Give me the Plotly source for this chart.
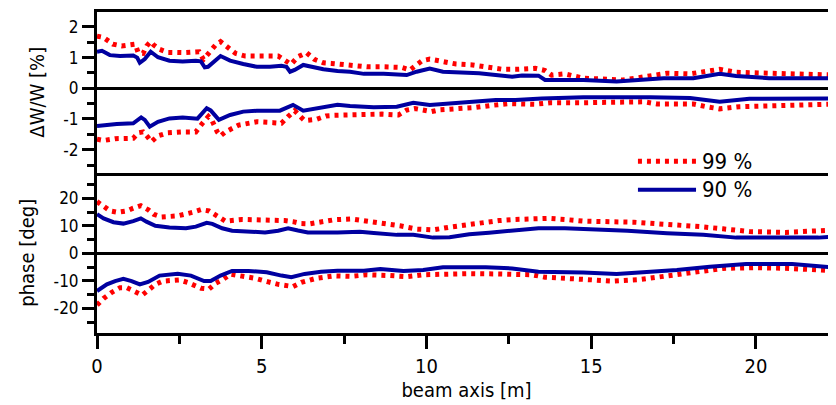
import plotly.graph_objects as go
from plotly.subplots import make_subplots

# ---------------- data ----------------
# Energy spread envelope, dW/W [%]
dw_up90_x = [0, 0.15, 0.39, 0.7, 1.1, 1.22, 1.3, 1.45, 1.63, 1.85, 2.2, 2.6, 3.0, 3.15, 3.27, 3.37, 3.75, 4.04, 4.44, 4.85, 5.25, 5.6, 5.75, 5.86, 6.0, 6.26, 6.87, 7.3, 7.68, 8.1, 8.7, 9.4, 9.7, 10.1, 10.5, 11.1, 11.6, 12.1, 12.6, 12.9, 13.4, 13.6, 14.1, 14.76, 15.77, 16.4, 17.2, 18.1, 18.9, 19.4, 20.4, 21.5, 22.45]
dw_up90_y = [1.19, 1.22, 1.08, 1.05, 1.07, 1.0, 0.83, 0.95, 1.19, 1.01, 0.9, 0.87, 0.9, 0.88, 0.68, 0.70, 1.05, 0.9, 0.79, 0.70, 0.70, 0.73, 0.70, 0.54, 0.6, 0.76, 0.62, 0.56, 0.54, 0.47, 0.47, 0.43, 0.54, 0.64, 0.54, 0.52, 0.49, 0.43, 0.38, 0.42, 0.41, 0.27, 0.27, 0.27, 0.22, 0.27, 0.33, 0.33, 0.47, 0.40, 0.33, 0.33, 0.33]

dw_up99_x = [0, 0.19, 0.48, 0.75, 1.16, 1.25, 1.4, 1.51, 1.63, 1.72, 1.9, 2.15, 2.65, 3.1, 3.23, 3.4, 3.6, 3.75, 3.93, 4.2, 4.5, 5.0, 5.5, 5.66, 5.89, 6.1, 6.36, 6.6, 6.87, 7.12, 7.68, 8.2, 8.7, 9.25, 9.5, 9.87, 10.1, 10.4, 10.9, 11.4, 11.9, 12.3, 12.8, 13.3, 13.6, 13.8, 14.2, 14.76, 15.97, 16.8, 17.3, 18.0, 18.6, 18.9, 19.4, 20.3, 21.5, 22.45]
dw_up99_y = [1.7, 1.66, 1.44, 1.38, 1.44, 1.16, 1.14, 1.38, 1.52, 1.41, 1.27, 1.17, 1.16, 1.19, 0.94, 1.14, 1.41, 1.52, 1.35, 1.14, 1.05, 1.03, 1.05, 0.94, 0.78, 1.03, 1.16, 0.94, 0.83, 0.81, 0.76, 0.70, 0.70, 0.68, 0.6, 0.9, 0.95, 0.89, 0.79, 0.76, 0.70, 0.62, 0.62, 0.65, 0.58, 0.43, 0.47, 0.33, 0.27, 0.40, 0.49, 0.47, 0.57, 0.62, 0.52, 0.49, 0.47, 0.43]

dw_lo90_x = [0, 0.2, 0.6, 1.1, 1.34, 1.45, 1.6, 1.85, 2.2, 2.6, 3.05, 3.33, 3.45, 3.7, 4.04, 4.44, 4.85, 5.55, 5.95, 6.26, 6.87, 7.3, 7.68, 8.4, 9.1, 9.6, 10.1, 10.7, 11.4, 12.1, 12.7, 13.5, 14.76, 15.77, 16.8, 18.0, 18.9, 19.8, 20.8, 22.45]
dw_lo90_y = [-1.23, -1.2, -1.16, -1.14, -0.95, -1.03, -1.25, -1.09, -0.98, -0.95, -0.99, -0.65, -0.72, -1.03, -0.87, -0.76, -0.73, -0.73, -0.54, -0.73, -0.6, -0.54, -0.58, -0.62, -0.6, -0.47, -0.54, -0.49, -0.44, -0.38, -0.38, -0.33, -0.29, -0.28, -0.29, -0.32, -0.44, -0.34, -0.33, -0.33]

dw_lo99_x = [0, 0.2, 0.55, 1.1, 1.25, 1.4, 1.55, 1.65, 1.85, 2.15, 2.6, 3.0, 3.2, 3.38, 3.5, 3.65, 3.75, 3.9, 4.3, 4.85, 5.35, 5.6, 5.8, 6.0, 6.2, 6.3, 6.66, 6.95, 7.2, 7.6, 8.1, 8.65, 9.15, 9.4, 9.65, 9.9, 10.15, 10.4, 10.9, 11.45, 11.95, 12.5, 13.3, 13.75, 14.76, 15.77, 16.6, 17.0, 18.1, 18.5, 18.9, 19.5, 20.3, 21.5, 22.45]
dw_lo99_y = [-1.66, -1.7, -1.64, -1.63, -1.45, -1.42, -1.6, -1.74, -1.55, -1.45, -1.42, -1.42, -1.14, -0.92, -1.07, -1.42, -1.55, -1.42, -1.2, -1.09, -1.12, -1.14, -0.92, -0.73, -0.95, -1.05, -1.01, -0.9, -0.88, -0.87, -0.85, -0.84, -0.87, -0.71, -0.66, -0.70, -0.76, -0.70, -0.67, -0.63, -0.56, -0.50, -0.52, -0.47, -0.47, -0.44, -0.44, -0.51, -0.51, -0.6, -0.67, -0.6, -0.58, -0.52, -0.51]

# Phase envelope [deg]
ph_up90_x = [0, 0.2, 0.5, 0.8, 1.1, 1.33, 1.5, 1.77, 2.2, 2.7, 3.0, 3.33, 3.5, 3.8, 4.1, 4.6, 5.1, 5.5, 5.8, 6.1, 6.4, 7.3, 7.98, 8.4, 9.1, 9.6, 10.2, 10.7, 11.3, 11.9, 12.6, 13.4, 14.2, 14.76, 16.1, 17.3, 18.4, 19.4, 20.4, 21.9, 22.45]
ph_up90_y = [14.2, 12.7, 11.3, 10.8, 11.7, 12.7, 11.5, 10.0, 9.4, 9.1, 9.7, 11.1, 10.7, 9.1, 8.2, 8.0, 7.6, 8.2, 9.1, 8.3, 7.6, 7.6, 7.8, 7.4, 6.7, 6.7, 5.7, 5.8, 6.9, 7.5, 8.2, 9.1, 9.1, 8.9, 8.2, 7.3, 6.7, 5.7, 5.7, 5.7, 6.2]

ph_up99_x = [0, 0.2, 0.4, 0.63, 0.9, 1.1, 1.33, 1.56, 1.72, 1.96, 2.45, 2.9, 3.16, 3.4, 3.65, 3.9, 4.4, 4.9, 5.45, 5.7, 5.95, 6.2, 6.45, 6.9, 7.2, 7.7, 8.2, 8.7, 9.2, 9.7, 10.2, 10.7, 11.2, 11.7, 12.2, 12.7, 13.2, 13.7, 14.2, 14.76, 16.3, 17.3, 18.3, 19.0, 19.8, 20.9, 21.9, 22.45]
ph_up99_y = [18.8, 17.0, 15.4, 14.9, 15.4, 16.4, 17.3, 15.8, 14.2, 13.2, 13.6, 14.9, 15.9, 15.4, 13.3, 11.7, 12.3, 12.3, 12.0, 11.9, 11.5, 10.8, 10.7, 11.5, 12.2, 12.5, 11.7, 10.7, 10.0, 8.8, 8.5, 9.5, 10.4, 11.1, 11.9, 12.3, 12.5, 12.7, 12.3, 11.7, 11.3, 10.7, 9.7, 8.9, 7.9, 7.6, 8.1, 8.5]

ph_lo90_x = [0, 0.3, 0.55, 0.8, 1.05, 1.3, 1.55, 1.9, 2.45, 2.85, 3.25, 3.45, 3.75, 4.1, 4.6, 5.15, 5.6, 5.9, 6.3, 6.8, 7.3, 8.1, 8.6, 9.3, 9.9, 10.5, 11.8, 12.6, 13.4, 14.2, 14.76, 15.77, 16.6, 17.6, 18.6, 19.7, 21.1, 22.45]
ph_lo90_y = [-13.7, -11.3, -10.1, -9.3, -10.1, -11.3, -10.4, -8.1, -7.4, -8.1, -10.1, -10.1, -8.1, -6.4, -6.4, -6.9, -8.1, -8.7, -7.5, -6.7, -6.3, -6.3, -5.7, -6.4, -6.1, -5.1, -5.1, -5.5, -6.7, -6.7, -7.0, -7.5, -7.0, -6.1, -4.9, -3.9, -3.9, -5.2]

ph_lo99_x = [0, 0.2, 0.45, 0.7, 0.9, 1.1, 1.37, 1.57, 1.77, 2.0, 2.27, 2.5, 2.75, 2.95, 3.16, 3.4, 3.6, 3.85, 4.05, 4.3, 4.8, 5.2, 5.5, 5.95, 6.2, 6.65, 7.2, 7.7, 8.2, 8.9, 9.4, 9.9, 10.5, 11.3, 12.1, 12.9, 13.2, 13.6, 14.1, 14.76, 15.67, 16.5, 17.2, 18.0, 19.0, 20.0, 21.0, 22.45]
ph_lo99_y = [-18.8, -16.4, -14.2, -12.5, -12.5, -13.7, -15.2, -13.3, -11.3, -10.1, -9.7, -9.7, -10.6, -11.5, -12.7, -13.0, -10.9, -9.3, -7.6, -8.1, -9.1, -10.4, -11.3, -12.1, -10.6, -9.1, -8.2, -8.4, -7.8, -8.1, -8.5, -7.8, -7.5, -7.4, -7.5, -7.5, -7.8, -8.7, -9.1, -9.3, -10.1, -9.5, -8.3, -7.0, -5.5, -5.2, -5.5, -6.4]

x_ticks = [0, 5, 10, 15, 20]
dw_ticks = [-2, -1, 0, 1, 2]
dw_ticktext = ["-2", "-1", "0", "1", "2"]
ph_ticks = [-20, -10, 0, 10, 20]
ph_ticktext = ["-20", "-10", "0", "10", "20"]
legend_names = ["99 %", "90 %"]

# ---------------- style ----------------
FONT = "Tahoma, 'DejaVu Sans Condensed', 'DejaVu Sans', sans-serif"
RED = "#FF0000"
BLUE = "#0000A0"
red_line = dict(color=RED, width=5, dash="4px,5px")
blue_line = dict(color=BLUE, width=4)

fig = make_subplots(rows=2, cols=1, shared_xaxes=True, vertical_spacing=0)

for xs, ys, ln, row in [
    (dw_up99_x, dw_up99_y, red_line, 1),
    (dw_lo99_x, dw_lo99_y, red_line, 1),
    (dw_up90_x, dw_up90_y, blue_line, 1),
    (dw_lo90_x, dw_lo90_y, blue_line, 1),
    (ph_up99_x, ph_up99_y, red_line, 2),
    (ph_lo99_x, ph_lo99_y, red_line, 2),
    (ph_up90_x, ph_up90_y, blue_line, 2),
    (ph_lo90_x, ph_lo90_y, blue_line, 2),
]:
    fig.add_trace(go.Scatter(x=xs, y=ys, mode="lines", line=ln, showlegend=False,
                             hoverinfo="skip"), row=row, col=1)

XR = [0, 22.43]
fig.update_xaxes(range=XR, showgrid=False, zeroline=False)
fig.update_xaxes(row=1, col=1, showline=True, linecolor="black", linewidth=3,
                 mirror=True, ticks="", showticklabels=False)
fig.update_xaxes(row=2, col=1, showline=True, linecolor="black", linewidth=3,
                 ticks="outside", ticklen=13, tickwidth=3, tickcolor="black",
                 tickvals=x_ticks, ticktext=[str(v) for v in x_ticks],
                 tickfont=dict(family=FONT, size=20, color="black"),
                 minor=dict(ticks="outside", ticklen=8, tickwidth=3, tickcolor="black",
                            dtick=2.5, tick0=0, showgrid=False),
                 title=dict(text="beam axis [m]", standoff=0,
                            font=dict(family=FONT, size=20, color="black")))

yax_common = dict(showgrid=False, zeroline=True, zerolinecolor="black", zerolinewidth=3,
                  showline=True, linecolor="black", linewidth=3,
                  ticks="outside", ticklen=12, tickwidth=3, tickcolor="black",
                  tickfont=dict(family=FONT, size=17, color="black"))
fig.update_yaxes(row=1, col=1, range=[-2.743, 2.485], tickvals=dw_ticks, ticktext=dw_ticktext,
                 minor=dict(ticks="outside", ticklen=7, tickwidth=3, tickcolor="black",
                            dtick=0.5, tick0=0, showgrid=False),
                 title=dict(text="ΔW/W [%]", standoff=14,
                            font=dict(family=FONT, size=20, color="black")),
                 **yax_common)
fig.update_yaxes(row=2, col=1, range=[-28.98, 29.38], tickvals=ph_ticks, ticktext=ph_ticktext,
                 minor=dict(ticks="outside", ticklen=7, tickwidth=3, tickcolor="black",
                            dtick=5, tick0=0, showgrid=False),
                 title=dict(text="phase [deg]", standoff=14,
                            font=dict(family=FONT, size=20, color="black")),
                 **yax_common)

# legend drawn as samples + labels (positions in paper coordinates)
leg_items = [(legend_names[0], red_line, 0.535), (legend_names[1], blue_line, 0.446)]
for name, ln, yy in leg_items:
    fig.add_shape(type="line", xref="paper", yref="paper", x0=0.732, x1=0.8106, y0=yy, y1=yy,
                  line=ln)
    fig.add_annotation(xref="paper", yref="paper", x=0.816, y=yy, text=name, showarrow=False,
                       xanchor="left", yanchor="middle",
                       font=dict(family=FONT, size=22, color="black"))

# page body has an 8px default margin: figure is sized to fill the rest of the window
fig.update_layout(width=828, height=397, margin=dict(l=89, r=0, t=4, b=72),
                  plot_bgcolor="white", paper_bgcolor="white",
                  font=dict(family=FONT, color="black"))

fig.write_html("out.html")
